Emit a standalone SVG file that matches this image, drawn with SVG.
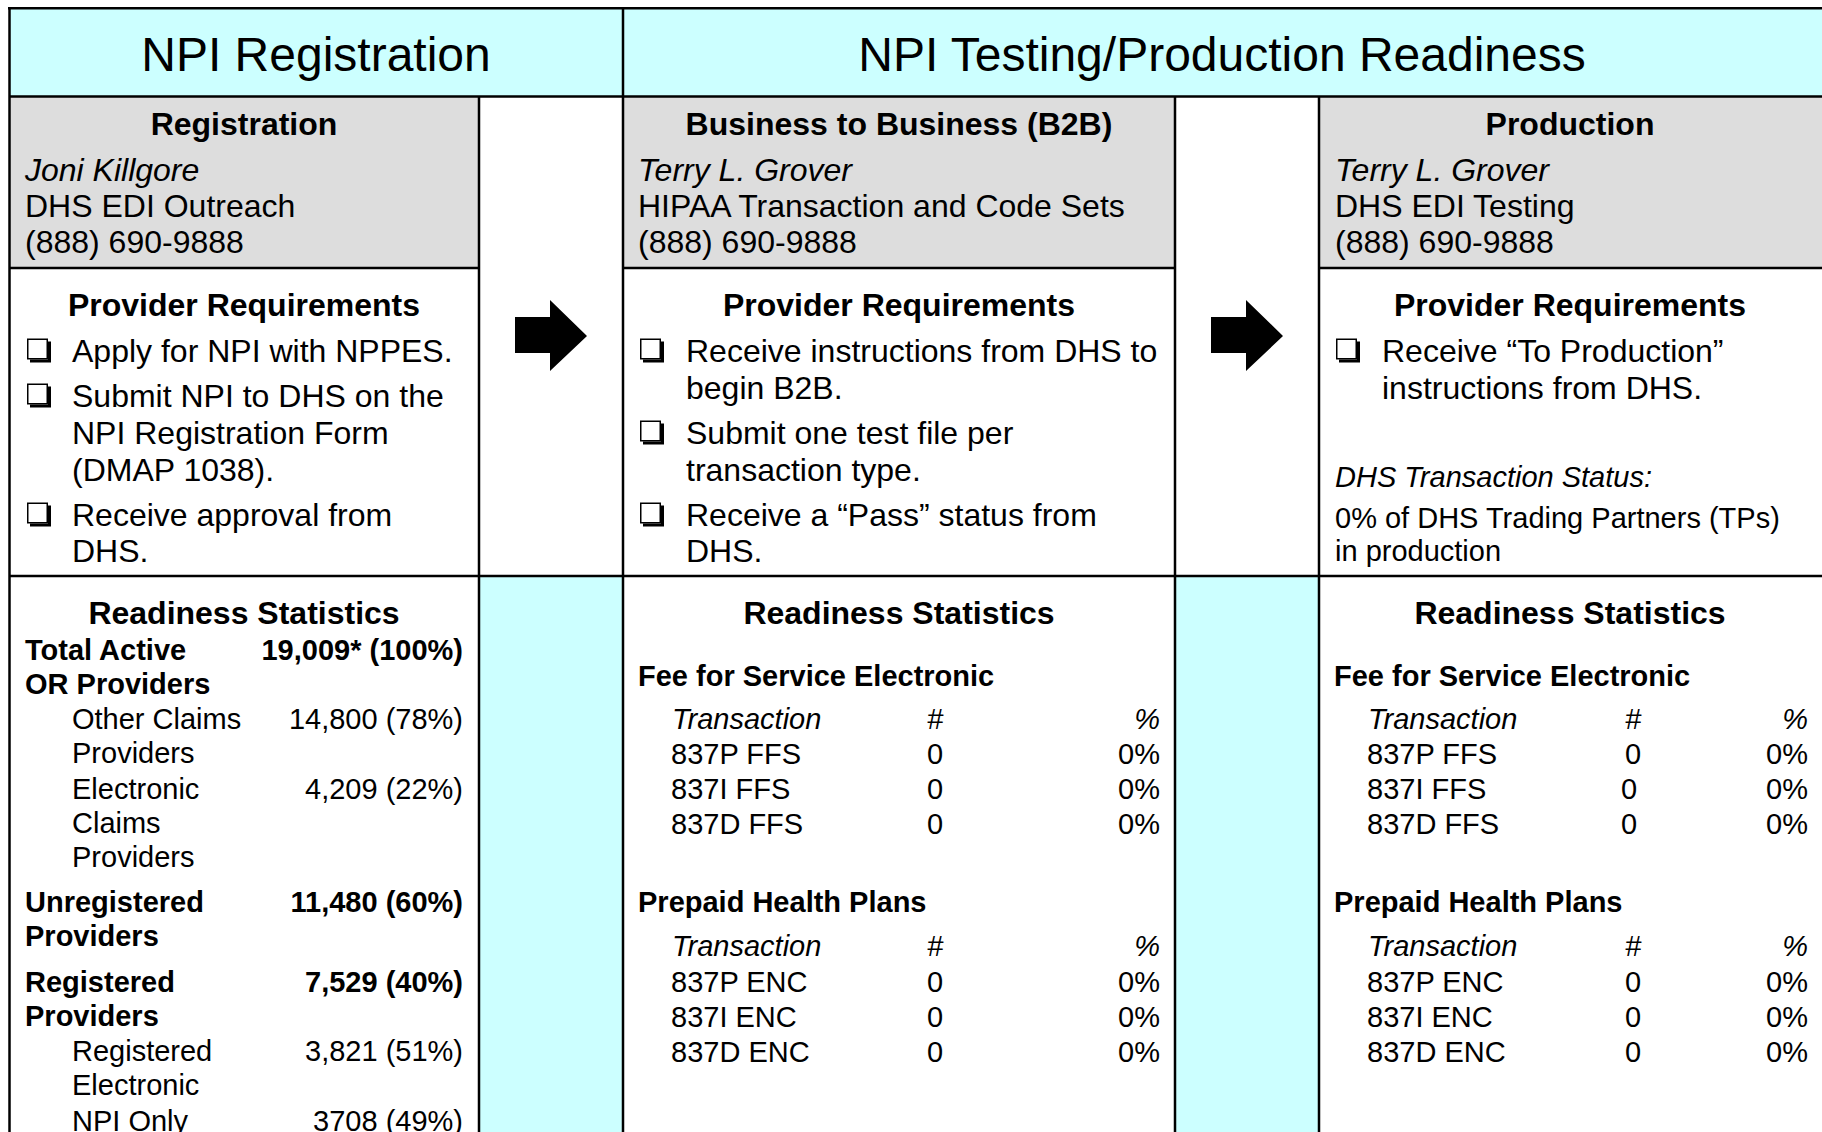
<svg xmlns="http://www.w3.org/2000/svg" xmlns:xlink="http://www.w3.org/1999/xlink" width="1822" height="1132" viewBox="0 0 1822 1132">
<style>
text{font-family:"Liberation Sans",Arial,Helvetica,sans-serif;fill:#000}
.h1{font-size:48px}
.t{font-size:32px}
.b{font-size:32px;font-weight:bold}
.i{font-size:32px;font-style:italic}
.s{font-size:29px}
.sb{font-size:29px;font-weight:bold}
.si{font-size:29px;font-style:italic}
.c{text-anchor:middle}
.r{text-anchor:end}
.ln{stroke:#000;stroke-width:2.5;fill:none}
.cyan{fill:#CCFFFF}
.gray{fill:#DDDDDD}
.arrow{fill:#000}
</style>
<defs>
<g id="cb">
<rect x="0.75" y="0.75" width="19.5" height="19.5" fill="#fff" stroke="#000" stroke-width="1.5"/>
<polygon points="21,3 24,3 24,24 3,24 3,21 21,21" fill="#000"/>
</g>
</defs>
<rect x="0" y="0" width="1822" height="1132" fill="#fff"/>

<g id="backgrounds">
<rect class="cyan" x="9" y="8" width="1815" height="88"/>
<rect class="gray" x="9" y="96" width="470" height="172"/>
<rect class="gray" x="623" y="96" width="552" height="172"/>
<rect class="gray" x="1319" y="96" width="505" height="172"/>
<rect class="cyan" x="479" y="576" width="144" height="560"/>
<rect class="cyan" x="1175" y="576" width="144" height="560"/>
</g>

<g id="grid">
<line class="ln" x1="8" y1="8.2" x2="1824" y2="8.2"/>
<line class="ln" x1="9.5" y1="7" x2="9.5" y2="1134"/>
<line class="ln" x1="9" y1="96.5" x2="1824" y2="96.5"/>
<line class="ln" x1="623" y1="8" x2="623" y2="1134"/>
<line class="ln" x1="479" y1="96" x2="479" y2="1134"/>
<line class="ln" x1="1175" y1="96" x2="1175" y2="1134"/>
<line class="ln" x1="1319" y1="96" x2="1319" y2="1134"/>
<line class="ln" x1="9" y1="268" x2="479" y2="268"/>
<line class="ln" x1="623" y1="268" x2="1175" y2="268"/>
<line class="ln" x1="1319" y1="268" x2="1824" y2="268"/>
<line class="ln" x1="9" y1="576" x2="1824" y2="576"/>
</g>

<g id="header-npi-registration" transform="translate(0,1.5)">
<text class="h1 c" x="316" y="69">NPI Registration</text>
</g>
<g id="header-npi-testing" transform="translate(0,1.5)">
<text class="h1 c" x="1222" y="69">NPI Testing/Production Readiness</text>
</g>

<g id="registration" transform="translate(0,1.5)">
<text class="b c" x="244" y="133">Registration</text>
<text class="i" x="25" y="179">Joni Killgore</text>
<text class="t" x="25" y="215">DHS EDI Outreach</text>
<text class="t" x="25" y="251">(888) 690-9888</text>

<text class="b c" x="244" y="314">Provider Requirements</text>
<use xlink:href="#cb" x="27" y="337"/>
<text class="t" x="72" y="360">Apply for NPI with NPPES.</text>
<use xlink:href="#cb" x="27" y="382"/>
<text class="t" x="72" y="405">Submit NPI to DHS on the</text>
<text class="t" x="72" y="442">NPI Registration Form</text>
<text class="t" x="72" y="479">(DMAP 1038).</text>
<use xlink:href="#cb" x="27" y="501"/>
<text class="t" x="72" y="524">Receive approval from</text>
<text class="t" x="72" y="560">DHS.</text>

<text class="b c" x="244" y="622">Readiness Statistics</text>
<text class="sb" x="25" y="658">Total Active</text>
<text class="sb r" x="463" y="658">19,009* (100%)</text>
<text class="sb" x="25" y="692">OR Providers</text>
<text class="s" x="72" y="727">Other Claims</text>
<text class="s r" x="463" y="727">14,800 (78%)</text>
<text class="s" x="72" y="761">Providers</text>
<text class="s" x="72" y="797">Electronic</text>
<text class="s r" x="463" y="797">4,209 (22%)</text>
<text class="s" x="72" y="831">Claims</text>
<text class="s" x="72" y="865">Providers</text>
<text class="sb" x="25" y="910">Unregistered</text>
<text class="sb r" x="463" y="910">11,480 (60%)</text>
<text class="sb" x="25" y="944">Providers</text>
<text class="sb" x="25" y="990">Registered</text>
<text class="sb r" x="463" y="990">7,529 (40%)</text>
<text class="sb" x="25" y="1024">Providers</text>
<text class="s" x="72" y="1059">Registered</text>
<text class="s r" x="463" y="1059">3,821 (51%)</text>
<text class="s" x="72" y="1093">Electronic</text>
<text class="s" x="72" y="1129">NPI Only</text>
<text class="s r" x="463" y="1129">3708 (49%)</text>
</g>

<g id="b2b" transform="translate(0,1.5)">
<text class="b c" x="899" y="133">Business to Business (B2B)</text>
<text class="i" x="638" y="179">Terry L. Grover</text>
<text class="t" x="638" y="215">HIPAA Transaction and Code Sets</text>
<text class="t" x="638" y="251">(888) 690-9888</text>

<text class="b c" x="899" y="314">Provider Requirements</text>
<use xlink:href="#cb" x="640" y="337"/>
<text class="t" x="686" y="360">Receive instructions from DHS to</text>
<text class="t" x="686" y="397">begin B2B.</text>
<use xlink:href="#cb" x="640" y="419"/>
<text class="t" x="686" y="442">Submit one test file per</text>
<text class="t" x="686" y="479">transaction type.</text>
<use xlink:href="#cb" x="640" y="501"/>
<text class="t" x="686" y="524">Receive a “Pass” status from</text>
<text class="t" x="686" y="560">DHS.</text>

<text class="b c" x="899" y="622">Readiness Statistics</text>
<text class="sb" x="638" y="684">Fee for Service Electronic</text>
<text class="si" x="672" y="727">Transaction</text>
<text class="si" x="927" y="727">#</text>
<text class="si r" x="1160" y="727">%</text>
<text class="s" x="671" y="762">837P FFS</text><text class="s" x="927" y="762">0</text><text class="s r" x="1160" y="762">0%</text>
<text class="s" x="671" y="797">837I FFS</text><text class="s" x="927" y="797">0</text><text class="s r" x="1160" y="797">0%</text>
<text class="s" x="671" y="832">837D FFS</text><text class="s" x="927" y="832">0</text><text class="s r" x="1160" y="832">0%</text>
<text class="sb" x="638" y="910">Prepaid Health Plans</text>
<text class="si" x="672" y="954">Transaction</text>
<text class="si" x="927" y="954">#</text>
<text class="si r" x="1160" y="954">%</text>
<text class="s" x="671" y="990">837P ENC</text><text class="s" x="927" y="990">0</text><text class="s r" x="1160" y="990">0%</text>
<text class="s" x="671" y="1025">837I ENC</text><text class="s" x="927" y="1025">0</text><text class="s r" x="1160" y="1025">0%</text>
<text class="s" x="671" y="1060">837D ENC</text><text class="s" x="927" y="1060">0</text><text class="s r" x="1160" y="1060">0%</text>
</g>

<g id="production" transform="translate(0,1.5)">
<text class="b c" x="1570" y="133">Production</text>
<text class="i" x="1335" y="179">Terry L. Grover</text>
<text class="t" x="1335" y="215">DHS EDI Testing</text>
<text class="t" x="1335" y="251">(888) 690-9888</text>

<text class="b c" x="1570" y="314">Provider Requirements</text>
<use xlink:href="#cb" x="1336" y="337"/>
<text class="t" x="1382" y="360">Receive “To Production”</text>
<text class="t" x="1382" y="397">instructions from DHS.</text>
<text class="si" x="1335" y="485">DHS Transaction Status:</text>
<text class="s" x="1335" y="526">0% of DHS Trading Partners (TPs)</text>
<text class="s" x="1335" y="559">in production</text>

<text class="b c" x="1570" y="622">Readiness Statistics</text>
<text class="sb" x="1334" y="684">Fee for Service Electronic</text>
<text class="si" x="1368" y="727">Transaction</text>
<text class="si" x="1625" y="727">#</text>
<text class="si r" x="1808" y="727">%</text>
<text class="s" x="1367" y="762">837P FFS</text><text class="s" x="1625" y="762">0</text><text class="s r" x="1808" y="762">0%</text>
<text class="s" x="1367" y="797">837I FFS</text><text class="s" x="1621" y="797">0</text><text class="s r" x="1808" y="797">0%</text>
<text class="s" x="1367" y="832">837D FFS</text><text class="s" x="1621" y="832">0</text><text class="s r" x="1808" y="832">0%</text>
<text class="sb" x="1334" y="910">Prepaid Health Plans</text>
<text class="si" x="1368" y="954">Transaction</text>
<text class="si" x="1625" y="954">#</text>
<text class="si r" x="1808" y="954">%</text>
<text class="s" x="1367" y="990">837P ENC</text><text class="s" x="1625" y="990">0</text><text class="s r" x="1808" y="990">0%</text>
<text class="s" x="1367" y="1025">837I ENC</text><text class="s" x="1625" y="1025">0</text><text class="s r" x="1808" y="1025">0%</text>
<text class="s" x="1367" y="1060">837D ENC</text><text class="s" x="1625" y="1060">0</text><text class="s r" x="1808" y="1060">0%</text>
</g>

<g id="connectors">
<polygon class="arrow" points="515,317 550,317 550,300 587,336 550,371 550,353 515,353"/>
<polygon class="arrow" points="1211,317 1246,317 1246,300 1283,336 1246,371 1246,353 1211,353"/>
</g>
</svg>
